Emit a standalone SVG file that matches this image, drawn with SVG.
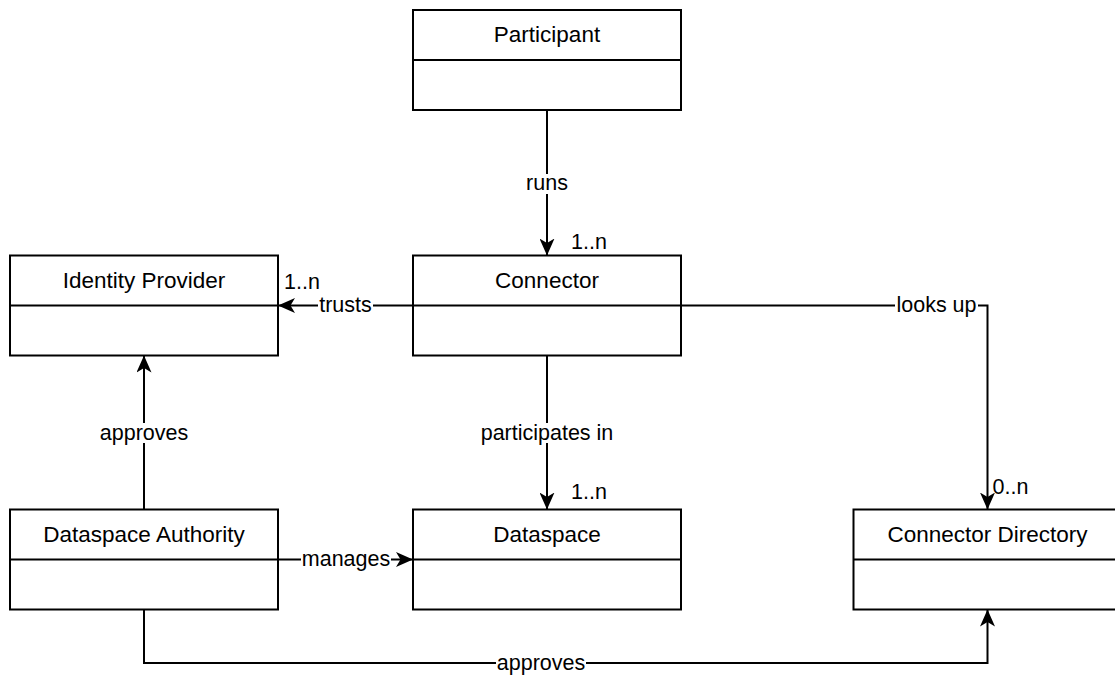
<svg xmlns="http://www.w3.org/2000/svg" width="1115" height="675" viewBox="0 0 1115 675">
  <style>
    .box { fill: #ffffff; stroke: #000000; stroke-width: 2; }
    .sep { stroke: #000000; stroke-width: 2; fill: none; }
    .title { font-family: "Liberation Sans", Arial, Helvetica, sans-serif; font-size: 22.5px; fill: #000000; text-anchor: middle; }
    .edge { fill: none; stroke: #000000; stroke-width: 2; }
    .lbg { fill: #ffffff; stroke: none; }
    .elabel { font-family: "Liberation Sans", Arial, Helvetica, sans-serif; font-size: 21.5px; fill: #000000; text-anchor: middle; }
    .mult { font-family: "Liberation Sans", Arial, Helvetica, sans-serif; font-size: 21.5px; fill: #000000; text-anchor: start; }
  </style>
  <defs>
    <marker id="arrow" markerUnits="userSpaceOnUse" viewBox="0 0 17 15" markerWidth="17" markerHeight="15" refX="17" refY="7.5" orient="auto">
      <path d="M0,0 L17,7.5 L0,15 L4.5,7.5 Z" fill="#000000"/>
    </marker>
  </defs>
  <rect width="1115" height="675" fill="#ffffff"/>

  <g id="node-participant">
    <rect class="box" x="413" y="10" width="268" height="100"/>
    <line class="sep" x1="413" y1="60" x2="681" y2="60"/>
    <text class="title" x="547" y="42">Participant</text>
  </g>
  <g id="node-connector">
    <rect class="box" x="413" y="255.5" width="268" height="100"/>
    <line class="sep" x1="413" y1="305.5" x2="681" y2="305.5"/>
    <text class="title" x="547" y="287.5">Connector</text>
  </g>
  <g id="node-identity-provider">
    <rect class="box" x="10" y="255.5" width="268" height="100"/>
    <line class="sep" x1="10" y1="305.5" x2="278" y2="305.5"/>
    <text class="title" x="144" y="287.5">Identity Provider</text>
  </g>
  <g id="node-dataspace">
    <rect class="box" x="413" y="509.5" width="268" height="100"/>
    <line class="sep" x1="413" y1="559.5" x2="681" y2="559.5"/>
    <text class="title" x="547" y="541.5">Dataspace</text>
  </g>
  <g id="node-dataspace-authority">
    <rect class="box" x="10" y="509.5" width="268" height="100"/>
    <line class="sep" x1="10" y1="559.5" x2="278" y2="559.5"/>
    <text class="title" x="144" y="541.5">Dataspace Authority</text>
  </g>
  <g id="node-connector-directory">
    <rect class="box" x="853.5" y="509.5" width="268" height="100"/>
    <line class="sep" x1="853.5" y1="559.5" x2="1121.5" y2="559.5"/>
    <text class="title" x="987.5" y="541.5">Connector Directory</text>
  </g>

  <g id="connectors">
    <!-- runs -->
    <path class="edge" d="M547,110 L547,255.5" marker-end="url(#arrow)"/>
    <rect class="lbg" x="524" y="174" width="46" height="20"/>
    <text class="elabel" x="547" y="190">runs</text>
    <text class="mult" x="571" y="249">1..n</text>

    <!-- trusts -->
    <path class="edge" d="M413,305.5 L278,305.5" marker-end="url(#arrow)"/>
    <rect class="lbg" x="318" y="295.5" width="55" height="20"/>
    <text class="elabel" x="345.5" y="312">trusts</text>
    <text class="mult" x="284" y="288.5">1..n</text>

    <!-- looks up -->
    <path class="edge" d="M681,305.5 L987.5,305.5 L987.5,509.5" marker-end="url(#arrow)"/>
    <rect class="lbg" x="895" y="295.5" width="83" height="20"/>
    <text class="elabel" x="936.5" y="312">looks up</text>
    <text class="mult" x="992.5" y="493.5">0..n</text>

    <!-- participates in -->
    <path class="edge" d="M547,355.5 L547,509.5" marker-end="url(#arrow)"/>
    <rect class="lbg" x="479" y="423" width="136" height="20"/>
    <text class="elabel" x="547" y="439.5">participates in</text>
    <text class="mult" x="571" y="498.5">1..n</text>

    <!-- approves (to Identity Provider) -->
    <path class="edge" d="M144,509.5 L144,355.5" marker-end="url(#arrow)"/>
    <rect class="lbg" x="99" y="423" width="90" height="20"/>
    <text class="elabel" x="144" y="439.5">approves</text>

    <!-- manages -->
    <path class="edge" d="M278,559.5 L413,559.5" marker-end="url(#arrow)"/>
    <rect class="lbg" x="301" y="549.5" width="90" height="20"/>
    <text class="elabel" x="346" y="566">manages</text>

    <!-- approves (to Connector Directory) -->
    <path class="edge" d="M144,609.5 L144,663 L987.5,663 L987.5,609.5" marker-end="url(#arrow)"/>
    <rect class="lbg" x="496" y="653" width="90" height="20"/>
    <text class="elabel" x="541" y="669.5">approves</text>
  </g>
</svg>
